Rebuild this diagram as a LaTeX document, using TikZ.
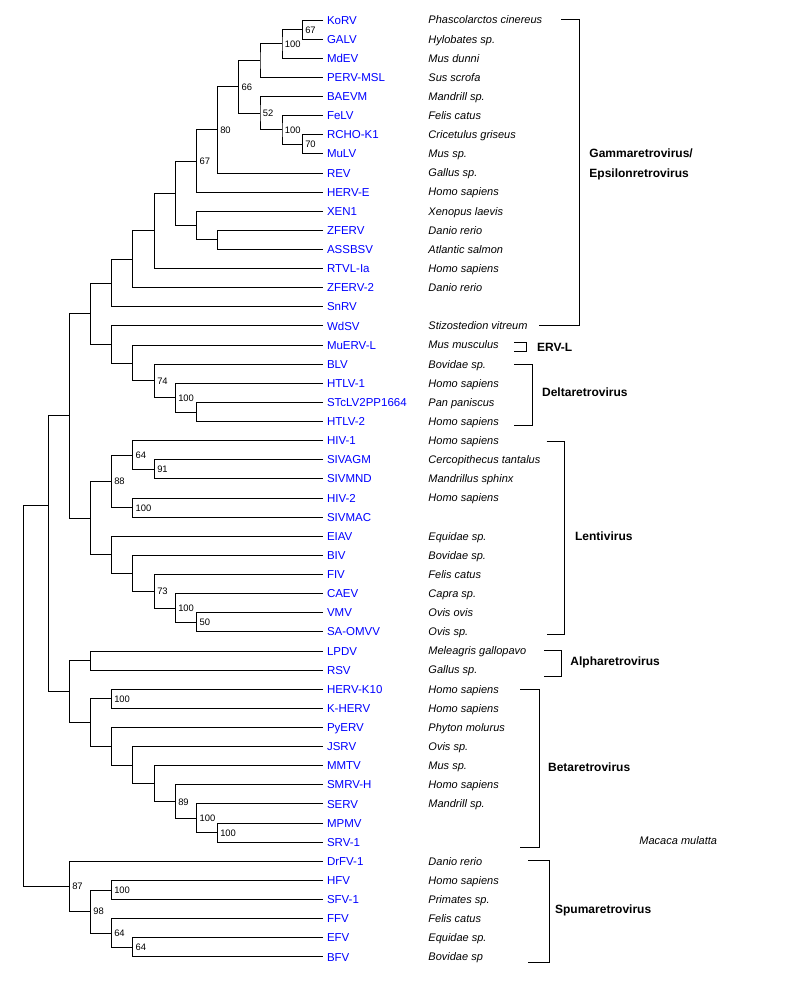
\documentclass[tikz,border=0pt]{standalone}
\usepackage{fontspec}
\setmainfont{Liberation Sans}
\definecolor{virusblue}{RGB}{0,0,255}

\begin{document}
\begin{tikzpicture}[x=1pt,y=-19.12pt,line width=0.9pt,
    virus/.style={anchor=west,inner xsep=4pt,inner ysep=0pt,outer sep=0pt,text=virusblue,
      text height=9.2pt,text depth=1pt,font=\fontsize{11.5}{13}\selectfont},
    host/.style={anchor=west,inner sep=0pt,text height=8.8pt,text depth=1pt,
      font=\fontsize{11}{13}\selectfont\itshape},
    boot/.style={anchor=west,inner xsep=2.5pt,inner ysep=0pt,text height=7.5pt,text depth=0.5pt,
      font=\fontsize{9.4}{11}\selectfont},
    genus/.style={anchor=west,inner sep=0pt,text height=9.6pt,text depth=1pt,
      font=\fontsize{12}{14}\selectfont\bfseries}]
   \useasboundingbox (0,-1.046) rectangle (799,50.47);

   % leaves
   \node[virus] (korv) at (323,0) {KoRV};
   \node[virus] (galv) at (323,1) {GALV};
   \node[virus] (mdev) at (323,2) {MdEV};
   \node[virus] (perv) at (323,3) {PERV-MSL};
   \node[virus] (baevm) at (323,4) {BAEVM};
   \node[virus] (felv) at (323,5) {FeLV};
   \node[virus] (rcho) at (323,6) {RCHO-K1};
   \node[virus] (mulv) at (323,7) {MuLV};
   \node[virus] (rev) at (323,8) {REV};
   \node[virus] (herve) at (323,9) {HERV-E};
   \node[virus] (xen1) at (323,10) {XEN1};
   \node[virus] (zferv) at (323,11) {ZFERV};
   \node[virus] (assbsv) at (323,12) {ASSBSV};
   \node[virus] (rtvl) at (323,13) {RTVL-Ia};
   \node[virus] (zferv2) at (323,14) {ZFERV-2};
   \node[virus] (snrv) at (323,15) {SnRV};
   \node[virus] (wdsv) at (323,16) {WdSV};
   \node[virus] (muervl) at (323,17) {MuERV-L};
   \node[virus] (blv) at (323,18) {BLV};
   \node[virus] (htlv1) at (323,19) {HTLV-1};
   \node[virus] (stclv) at (323,20) {STcLV2PP1664};
   \node[virus] (htlv2) at (323,21) {HTLV-2};
   \node[virus] (hiv1) at (323,22) {HIV-1};
   \node[virus] (sivagm) at (323,23) {SIVAGM};
   \node[virus] (sivmnd) at (323,24) {SIVMND};
   \node[virus] (hiv2) at (323,25) {HIV-2};
   \node[virus] (sivmac) at (323,26) {SIVMAC};
   \node[virus] (eiav) at (323,27) {EIAV};
   \node[virus] (biv) at (323,28) {BIV};
   \node[virus] (fiv) at (323,29) {FIV};
   \node[virus] (caev) at (323,30) {CAEV};
   \node[virus] (vmv) at (323,31) {VMV};
   \node[virus] (saomvv) at (323,32) {SA-OMVV};
   \node[virus] (lpdv) at (323,33) {LPDV};
   \node[virus] (rsv) at (323,34) {RSV};
   \node[virus] (hervk10) at (323,35) {HERV-K10};
   \node[virus] (kherv) at (323,36) {K-HERV};
   \node[virus] (pyerv) at (323,37) {PyERV};
   \node[virus] (jsrv) at (323,38) {JSRV};
   \node[virus] (mmtv) at (323,39) {MMTV};
   \node[virus] (smrvh) at (323,40) {SMRV-H};
   \node[virus] (serv) at (323,41) {SERV};
   \node[virus] (mpmv) at (323,42) {MPMV};
   \node[virus] (srv1) at (323,43) {SRV-1};
   \node[virus] (drfv1) at (323,44) {DrFV-1};
   \node[virus] (hfv) at (323,45) {HFV};
   \node[virus] (sfv1) at (323,46) {SFV-1};
   \node[virus] (ffv) at (323,47) {FFV};
   \node[virus] (efv) at (323,48) {EFV};
   \node[virus] (bfv) at (323,49) {BFV};

   % hosts
   \node[host] (korv-h) at (428,0) {Phascolarctos cinereus};
   \node[host] (galv-h) at (428,1) {Hylobates sp.};
   \node[host] (mdev-h) at (428,2) {Mus dunni};
   \node[host] (perv-h) at (428,3) {Sus scrofa};
   \node[host] (baevm-h) at (428,4) {Mandrill sp.};
   \node[host] (felv-h) at (428,5) {Felis catus};
   \node[host] (rcho-h) at (428,6) {Cricetulus griseus};
   \node[host] (mulv-h) at (428,7) {Mus sp.};
   \node[host] (rev-h) at (428,8) {Gallus sp.};
   \node[host] (herve-h) at (428,9) {Homo sapiens};
   \node[host] (xen1-h) at (428,10) {Xenopus laevis};
   \node[host] (zferv-h) at (428,11) {Danio rerio};
   \node[host] (assbsv-h) at (428,12) {Atlantic salmon};
   \node[host] (rtvl-h) at (428,13) {Homo sapiens};
   \node[host] (zferv2-h) at (428,14) {Danio rerio};
   \node[host] (wdsv-h) at (428,16) {Stizostedion vitreum};
   \node[host] (muervl-h) at (428,17) {Mus musculus};
   \node[host] (blv-h) at (428,18) {Bovidae sp.};
   \node[host] (htlv1-h) at (428,19) {Homo sapiens};
   \node[host] (stclv-h) at (428,20) {Pan paniscus};
   \node[host] (htlv2-h) at (428,21) {Homo sapiens};
   \node[host] (hiv1-h) at (428,22) {Homo sapiens};
   \node[host] (sivagm-h) at (428,23) {Cercopithecus tantalus};
   \node[host] (sivmnd-h) at (428,24) {Mandrillus sphinx};
   \node[host] (hiv2-h) at (428,25) {Homo sapiens};
   \node[host] (eiav-h) at (428,27) {Equidae sp.};
   \node[host] (biv-h) at (428,28) {Bovidae sp.};
   \node[host] (fiv-h) at (428,29) {Felis catus};
   \node[host] (caev-h) at (428,30) {Capra sp.};
   \node[host] (vmv-h) at (428,31) {Ovis ovis};
   \node[host] (saomvv-h) at (428,32) {Ovis sp.};
   \node[host] (lpdv-h) at (428,33) {Meleagris gallopavo};
   \node[host] (rsv-h) at (428,34) {Gallus sp.};
   \node[host] (hervk10-h) at (428,35) {Homo sapiens};
   \node[host] (kherv-h) at (428,36) {Homo sapiens};
   \node[host] (pyerv-h) at (428,37) {Phyton molurus};
   \node[host] (jsrv-h) at (428,38) {Ovis sp.};
   \node[host] (mmtv-h) at (428,39) {Mus sp.};
   \node[host] (smrvh-h) at (428,40) {Homo sapiens};
   \node[host] (serv-h) at (428,41) {Mandrill sp.};
   \node[host] (srv1-h) at (639,42.94) {Macaca mulatta};
   \node[host] (drfv1-h) at (428,44) {Danio rerio};
   \node[host] (hfv-h) at (428,45) {Homo sapiens};
   \node[host] (sfv1-h) at (428,46) {Primates sp.};
   \node[host] (ffv-h) at (428,47) {Felis catus};
   \node[host] (efv-h) at (428,48) {Equidae sp.};
   \node[host] (bfv-h) at (428,49) {Bovidae sp};

   % inner nodes
   \coordinate (g1) at (302.3,0.5);
   \coordinate (g2) at (282,1.25);
   \coordinate (g3) at (260,2.125);
   \coordinate (g4) at (302.3,6.5);
   \coordinate (g5) at (282,5.75);
   \coordinate (g6) at (260,4.875);
   \coordinate (g7) at (238.7,3.5);
   \coordinate (g8) at (217.3,5.75);
   \coordinate (g9) at (196.7,7.375);
   \coordinate (g10) at (217.3,11.5);
   \coordinate (g11) at (196.7,10.75);
   \coordinate (g12) at (175.3,9.06);
   \coordinate (g13) at (154.3,11.03);
   \coordinate (g14) at (132.7,12.52);
   \coordinate (g15) at (111.3,13.76);
   \coordinate (d1) at (196.7,20.5);
   \coordinate (d2) at (175.3,19.75);
   \coordinate (d3) at (154.3,18.875);
   \coordinate (d4) at (132.7,17.94);
   \coordinate (d5) at (111.3,16.97);
   \coordinate (n1) at (90.5,15.36);
   \coordinate (l1) at (154.3,23.5);
   \coordinate (l2) at (132.7,22.75);
   \coordinate (l3) at (132.7,25.5);
   \coordinate (l4) at (111.3,24.125);
   \coordinate (l5) at (196.7,31.5);
   \coordinate (l6) at (175.3,30.75);
   \coordinate (l7) at (154.3,29.875);
   \coordinate (l8) at (132.7,28.94);
   \coordinate (l9) at (111.3,27.97);
   \coordinate (n2) at (90.5,26.05);
   \coordinate (n3) at (69.3,20.70);
   \coordinate (a1) at (90.5,33.5);
   \coordinate (b1) at (111.3,35.5);
   \coordinate (b2) at (217.3,42.5);
   \coordinate (b3) at (196.7,41.75);
   \coordinate (b4) at (175.3,40.875);
   \coordinate (b5) at (154.3,39.94);
   \coordinate (b6) at (132.7,38.97);
   \coordinate (b7) at (111.3,37.98);
   \coordinate (b8) at (90.5,36.74);
   \coordinate (n4) at (69.3,35.12);
   \coordinate (n5) at (48.7,25.38);
   \coordinate (s1) at (111.3,45.5);
   \coordinate (s2) at (132.7,48.5);
   \coordinate (s3) at (111.3,47.75);
   \coordinate (s4) at (90.5,46.625);
   \coordinate (s5) at (69.3,45.31);
   \coordinate (root) at (23.3,35);

   % branches
   \draw (korv.west) -| (g1) |- (galv.west);
   \draw (g1) -| (g2) |- (mdev.west);
   \draw (g2) -| (g3) |- (perv.west);
   \draw (rcho.west) -| (g4) |- (mulv.west);
   \draw (felv.west) -| (g5) |- (g4);
   \draw (baevm.west) -| (g6) |- (g5);
   \draw (g3) -| (g7) |- (g6);
   \draw (g7) -| (g8) |- (rev.west);
   \draw (g8) -| (g9) |- (herve.west);
   \draw (zferv.west) -| (g10) |- (assbsv.west);
   \draw (xen1.west) -| (g11) |- (g10);
   \draw (g9) -| (g12) |- (g11);
   \draw (g12) -| (g13) |- (rtvl.west);
   \draw (g13) -| (g14) |- (zferv2.west);
   \draw (g14) -| (g15) |- (snrv.west);
   \draw (stclv.west) -| (d1) |- (htlv2.west);
   \draw (htlv1.west) -| (d2) |- (d1);
   \draw (blv.west) -| (d3) |- (d2);
   \draw (muervl.west) -| (d4) |- (d3);
   \draw (wdsv.west) -| (d5) |- (d4);
   \draw (g15) -| (n1) |- (d5);
   \draw (sivagm.west) -| (l1) |- (sivmnd.west);
   \draw (hiv1.west) -| (l2) |- (l1);
   \draw (hiv2.west) -| (l3) |- (sivmac.west);
   \draw (l2) -| (l4) |- (l3);
   \draw (vmv.west) -| (l5) |- (saomvv.west);
   \draw (caev.west) -| (l6) |- (l5);
   \draw (fiv.west) -| (l7) |- (l6);
   \draw (biv.west) -| (l8) |- (l7);
   \draw (eiav.west) -| (l9) |- (l8);
   \draw (l4) -| (n2) |- (l9);
   \draw (n1) -| (n3) |- (n2);
   \draw (lpdv.west) -| (a1) |- (rsv.west);
   \draw (hervk10.west) -| (b1) |- (kherv.west);
   \draw (mpmv.west) -| (b2) |- (srv1.west);
   \draw (serv.west) -| (b3) |- (b2);
   \draw (smrvh.west) -| (b4) |- (b3);
   \draw (mmtv.west) -| (b5) |- (b4);
   \draw (jsrv.west) -| (b6) |- (b5);
   \draw (pyerv.west) -| (b7) |- (b6);
   \draw (b1) -| (b8) |- (b7);
   \draw (a1) -| (n4) |- (b8);
   \draw (n3) -| (n5) |- (n4);
   \draw (hfv.west) -| (s1) |- (sfv1.west);
   \draw (efv.west) -| (s2) |- (bfv.west);
   \draw (ffv.west) -| (s3) |- (s2);
   \draw (s1) -| (s4) |- (s3);
   \draw (drfv1.west) -| (s5) |- (s4);
   \draw (n5) -| (root) |- (s5);

   % bootstrap values
   \node[boot] (g1-bs) at (g1) {67};
   \node[boot] (g2-bs) at (g2) {100};
   \node[boot] (g4-bs) at (g4) {70};
   \node[boot] (g5-bs) at (g5) {100};
   \node[boot] (g6-bs) at (g6) {52};
   \node[boot] (g7-bs) at (g7) {66};
   \node[boot] (g8-bs) at (g8) {80};
   \node[boot] (g9-bs) at (g9) {67};
   \node[boot] (d2-bs) at (d2) {100};
   \node[boot] (d3-bs) at (d3) {74};
   \node[boot] (l1-bs) at (l1) {91};
   \node[boot] (l2-bs) at (l2) {64};
   \node[boot] (l3-bs) at (l3) {100};
   \node[boot] (l4-bs) at (l4) {88};
   \node[boot] (l5-bs) at (l5) {50};
   \node[boot] (l6-bs) at (l6) {100};
   \node[boot] (l7-bs) at (l7) {73};
   \node[boot] (b1-bs) at (b1) {100};
   \node[boot] (b2-bs) at (b2) {100};
   \node[boot] (b3-bs) at (b3) {100};
   \node[boot] (b4-bs) at (b4) {89};
   \node[boot] (s1-bs) at (s1) {100};
   \node[boot] (s2-bs) at (s2) {64};
   \node[boot] (s3-bs) at (s3) {64};
   \node[boot] (s4-bs) at (s4) {98};
   \node[boot] (s5-bs) at (s5) {87};

   % genus brackets
   \draw (561,-0.05) -| (579.3,15.95) -- (539,15.95);
   \draw (514,16.88) -| (526.7,17.33) -- (514,17.33);
   \draw (514,18.01) -| (532.7,21.2) -- (514,21.2);
   \draw (546.7,22.03) -| (564.3,32.11) -- (546.7,32.11);
   \draw (544,32.95) -| (561.3,34.31) -- (544,34.31);
   \draw (520,35) -| (539.3,43.25) -- (520,43.25);
   \draw (528.3,43.97) -| (549,49.28) -- (528.3,49.28);

   \node[genus] (gamma) at (589,6.97) {Gammaretrovirus/};
   \node[genus] (epsilon) at (589,7.99) {Epsilonretrovirus};
   \node[genus] (ervl) at (536.7,17.09) {ERV-L};
   \node[genus] (delta) at (541.7,19.44) {Deltaretrovirus};
   \node[genus] (lenti) at (574.7,27.02) {Lentivirus};
   \node[genus] (alpha) at (570,33.51) {Alpharetrovirus};
   \node[genus] (beta) at (547.7,39.1) {Betaretrovirus};
   \node[genus] (spuma) at (554.7,46.51) {Spumaretrovirus};
\end{tikzpicture}
\end{document}
